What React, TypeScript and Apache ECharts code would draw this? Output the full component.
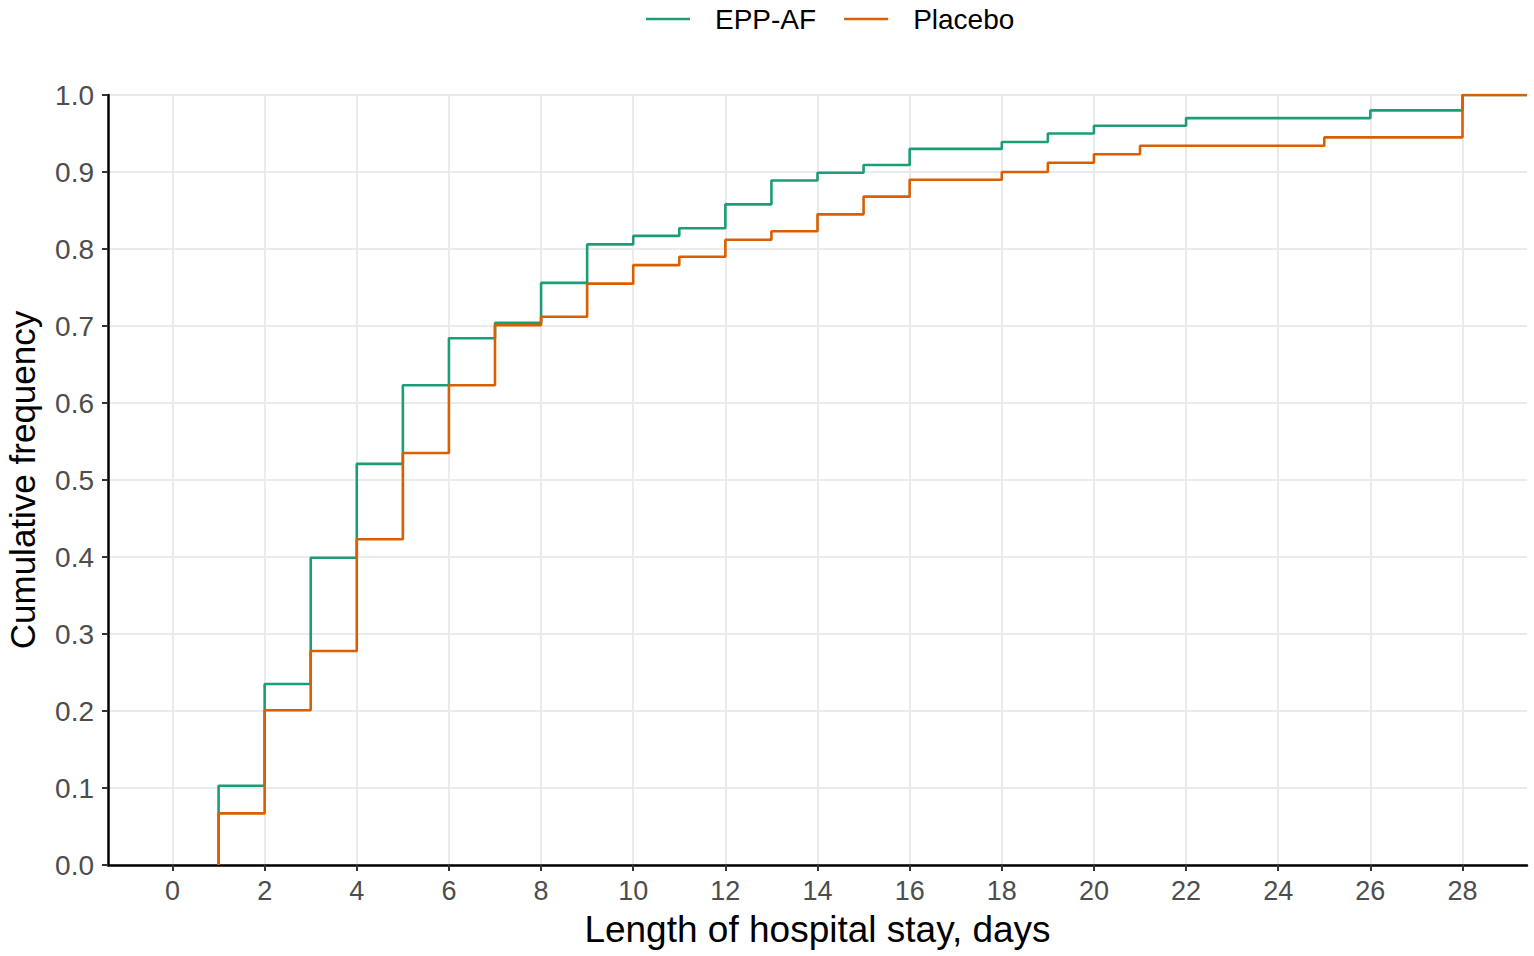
import React, { useEffect, useRef } from "react";
import * as echarts from "echarts";

const xTicks = [0, 2, 4, 6, 8, 10, 12, 14, 16, 18, 20, 22, 24, 26, 28];
const xMin = -1.4;
const xMax = 29.4;

const eppDays = [1, 2, 3, 4, 5, 6, 7, 8, 9, 10, 11, 12, 13, 14, 15, 16, 18, 19, 20, 22, 26, 28];
const eppCum = [0.103, 0.235, 0.399, 0.521, 0.623, 0.684, 0.704, 0.756, 0.806, 0.817, 0.827, 0.858, 0.889, 0.899, 0.909, 0.930, 0.939, 0.950, 0.960, 0.970, 0.980, 1.0];

const placeboDays = [1, 2, 3, 4, 5, 6, 7, 8, 9, 10, 11, 12, 13, 14, 15, 16, 18, 19, 20, 21, 25, 28];
const placeboCum = [0.067, 0.201, 0.278, 0.423, 0.535, 0.623, 0.701, 0.712, 0.755, 0.779, 0.790, 0.812, 0.823, 0.845, 0.868, 0.890, 0.900, 0.912, 0.923, 0.934, 0.945, 1.0];

const seriesNames = ["EPP-AF", "Placebo"];
const colors = ["#1B9E77", "#D95F02"];

const FONT = "Liberation Sans, Arial, sans-serif";

// ECDF: starts at 0 at the first day, steps up at each day, and continues at 1 to the panel edge
const ecdf = (xs: number[], ys: number[]) => {
  const pts: number[][] = [[xs[0], 0]];
  xs.forEach((x, i) => pts.push([x, ys[i]]));
  pts.push([xMax, ys[ys.length - 1]]);
  return pts;
};

export default function App() {
  const ref = useRef<HTMLDivElement>(null);

  useEffect(() => {
    if (!ref.current) return;
    const chart = echarts.init(ref.current, null, { renderer: "svg" });
    chart.setOption({
      animation: false,
      backgroundColor: "#ffffff",
      textStyle: { fontFamily: FONT },
      legend: {
        left: 641,
        top: 0,
        itemWidth: 44,
        itemHeight: 14,
        itemGap: 28,
        icon: "path://M0,6 L44,6 L44,8.5 L0,8.5 Z",
        textStyle: { fontSize: 28, color: "#000000", fontFamily: FONT, padding: [0, 0, 0, 20] },
        data: seriesNames,
      },
      grid: {
        left: 108,
        right: 7,
        top: 95,
        bottom: 91,
        containLabel: false,
        outerBoundsMode: "none",
      },
      xAxis: {
        type: "value",
        min: xMin,
        max: xMax,
        name: "Length of hospital stay, days",
        nameLocation: "middle",
        nameGap: 46,
        nameTextStyle: { fontSize: 37, color: "#000000", fontFamily: FONT },
        axisLine: { show: true, onZero: false, lineStyle: { color: "#000000", width: 2.5 } },
        axisTick: { show: true, length: 6, lineStyle: { color: "#333333", width: 2 }, customValues: xTicks },
        axisLabel: { fontSize: 27, color: "#4D4D4D", margin: 12, fontFamily: FONT, customValues: xTicks },
        splitLine: { show: true, lineStyle: { color: "#EBEBEB", width: 2 } },
      },
      yAxis: {
        type: "value",
        min: 0,
        max: 1,
        interval: 0.1,
        name: "Cumulative frequency",
        nameLocation: "middle",
        nameGap: 68,
        nameTextStyle: { fontSize: 35, color: "#000000", fontFamily: FONT },
        axisLine: { show: true, onZero: false, lineStyle: { color: "#000000", width: 2.5 } },
        axisTick: { show: true, length: 6, lineStyle: { color: "#333333", width: 2 } },
        axisLabel: {
          fontSize: 28,
          color: "#4D4D4D",
          margin: 14,
          fontFamily: FONT,
          formatter: (v: number) => v.toFixed(1),
        },
        splitLine: { show: true, lineStyle: { color: "#EBEBEB", width: 2 } },
      },
      series: [
        {
          name: seriesNames[0],
          type: "line",
          step: "end",
          symbol: "none",
          showSymbol: false,
          color: colors[0],
          lineStyle: { color: colors[0], width: 2.6 },
          data: ecdf(eppDays, eppCum),
          z: 2,
        },
        {
          name: seriesNames[1],
          type: "line",
          step: "end",
          symbol: "none",
          showSymbol: false,
          color: colors[1],
          lineStyle: { color: colors[1], width: 2.6 },
          data: ecdf(placeboDays, placeboCum),
          z: 3,
        },
      ],
    });
    return () => chart.dispose();
  }, []);

  return (
    <div
      ref={ref}
      style={{ position: "absolute", left: 0, top: 0, width: 1534, height: 956 }}
    />
  );
}
